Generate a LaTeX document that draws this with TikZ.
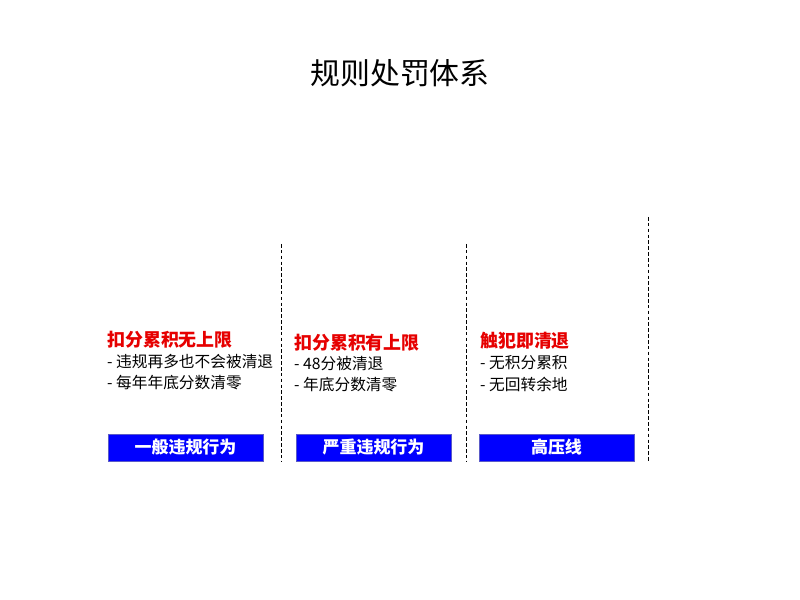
\documentclass[tikz,border=0pt]{standalone}
\usepackage{fontspec}
\setmainfont{Liberation Sans}
\newfontfamily\cjk{Noto Sans CJK SC}
\usetikzlibrary{positioning}
\definecolor{boxblue}{RGB}{0,0,255}
\definecolor{boxedge}{RGB}{90,90,200}
\definecolor{headred}{RGB}{230,0,0}
\tikzset{
	levelbox/.style={draw=boxedge, line width=0.8pt, fill=boxblue, text=white, minimum width=4.65cm, minimum height=0.81cm, inner sep=0pt, font=\cjk\bfseries\fontsize{14.5}{16}\selectfont},
	headtext/.style={anchor=west, inner sep=0pt, text=headred, font=\cjk\bfseries\fontsize{15.3}{18}\selectfont},
	itemtext/.style={anchor=west, inner sep=0pt, text=black, font=\cjk\fontsize{13.4}{16}\selectfont},
	divider/.style={densely dashed, line width=0.6pt}
}
\begin{document}
\begin{tikzpicture}[x=0.03cm, y=-0.03cm]
				\useasboundingbox[fill=white] (0,0) rectangle (800,600);
				
				\node[inner sep=0pt, font=\cjk\fontsize{25.5}{30}\selectfont] (title) at (400,73) {规则处罚体系};
				
				% dashed dividers
				\coordinate (d1top) at (281,244);
				\coordinate (d1bot) at (281,462);
				\coordinate (d2top) at (466,244);
				\coordinate (d2bot) at (466,462);
				\coordinate (d3top) at (648,217);
				\coordinate (d3bot) at (648,462);
				\draw[divider] (d1top) -- (d1bot);
				\draw[divider] (d2top) -- (d2bot);
				\draw[divider] (d3top) -- (d3bot);
				
				% column 1
				\node[headtext] (headA) at (107,340) {扣分累积无上限};
				\node[itemtext] (itemAa) at (107,362) {- 违规再多也不会被清退};
				\node[itemtext] (itemAb) at (107,383) {- 每年年底分数清零};
				\node[levelbox] (boxA) at (185.5,447.5) {一般违规行为};
				
				% column 2
				\node[headtext] (headB) at (294,343) {扣分累积有上限};
				\node[itemtext] (itemBa) at (294,364) {- 48分被清退};
				\node[itemtext] (itemBb) at (294,385) {- 年底分数清零};
				\node[levelbox] (boxB) at (373.5,447.5) {严重违规行为};
				
				% column 3
				\node[headtext] (headC) at (480,341) {触犯即清退};
				\node[itemtext] (itemCa) at (480,363) {- 无积分累积};
				\node[itemtext] (itemCb) at (480,384) {- 无回转余地};
				\node[levelbox] (boxC) at (556.5,447.5) {高压线};
\end{tikzpicture}
\end{document}
